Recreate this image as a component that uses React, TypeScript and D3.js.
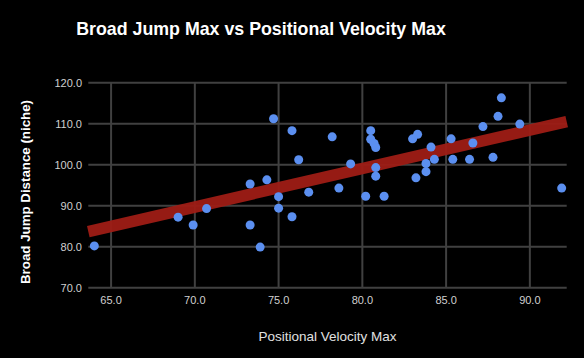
import React from "react";
import * as d3 from "d3";

const velocity = [64.0, 69.0, 69.9, 70.7, 74.7, 75.8, 78.2, 80.5, 80.5, 80.7, 80.8, 83.0, 83.3, 76.2, 79.3, 80.8, 80.8, 73.3, 74.3, 75.0, 76.8, 78.6, 80.2, 81.3, 75.0, 75.8, 73.3, 73.9, 84.1, 83.8, 84.3, 83.8, 83.2, 85.3, 85.4, 86.4, 86.6, 87.2, 87.8, 88.1, 88.3, 89.4, 91.9];
const broadJump = [80.2, 87.2, 85.3, 89.3, 111.2, 108.3, 106.8, 108.3, 106.2, 105.2, 104.2, 106.3, 107.4, 101.2, 100.2, 99.3, 97.2, 95.3, 96.3, 92.2, 93.3, 94.3, 92.3, 92.3, 89.4, 87.3, 85.3, 79.9, 104.3, 100.3, 101.3, 98.3, 96.8, 106.3, 101.3, 101.3, 105.3, 109.3, 101.8, 111.8, 116.3, 109.9, 94.3];
const trendX = [63.64, 92.2];
const trendY = [83.7, 110.5];
const xTicks = [65, 70, 75, 80, 85, 90];
const yTicks = [70, 80, 90, 100, 110, 120];

export default function App() {
  const W = 584, H = 358;
  const left = 88.3, right = 566.7, top = 82.7, bottom = 287.7;
  const x = d3.scaleLinear().domain([63.64, 92.2]).range([left, right]);
  const y = d3.scaleLinear().domain([70, 120]).range([bottom, top]);
  const line = d3.line<number>().x((_, i) => x(trendX[i])).y((d) => y(d));
  const grid = "#404040";
  const font = "Liberation Sans, Arial, sans-serif";
  return (
    <svg width={W} height={H} style={{ position: "absolute", left: 0, top: 0, background: "#000" }} fontFamily={font}>
      <rect x={0} y={0} width={W} height={H} fill="#000" />
      <text x={261} y={35} textAnchor="middle" fill="#fff" fontSize={17.8} fontWeight="bold">
        Broad Jump Max vs Positional Velocity Max
      </text>
      {yTicks.map((t) => (
        <g key={"y" + t}>
          <line x1={left} x2={right} y1={y(t)} y2={y(t)} stroke={grid} strokeWidth={2} />
          <text x={82} y={y(t) + 4} textAnchor="end" fill="#d0d0d0" fontSize={11}>
            {t.toFixed(1)}
          </text>
        </g>
      ))}
      {xTicks.map((t) => (
        <g key={"x" + t}>
          <line x1={x(t)} x2={x(t)} y1={top} y2={bottom} stroke={grid} strokeWidth={2} />
          <text x={x(t)} y={304} textAnchor="middle" fill="#d0d0d0" fontSize={11}>
            {t.toFixed(1)}
          </text>
        </g>
      ))}
      <path d={line(trendY) || ""} stroke="#9e1c15" strokeWidth={11.5} fill="none" opacity={0.95} />
      {velocity.map((v, i) => (
        <circle key={i} cx={x(v)} cy={y(broadJump[i])} r={4.5} fill="#5b8ff0" />
      ))}
      <text x={327.5} y={341} textAnchor="middle" fill="#e0e0e0" fontSize={13.5}>
        Positional Velocity Max
      </text>
      <text transform={`translate(29.5,192) rotate(-90)`} textAnchor="middle" fill="#fff" fontSize={13.3} fontWeight="bold">
        Broad Jump Distance (niche)
      </text>
    </svg>
  );
}
